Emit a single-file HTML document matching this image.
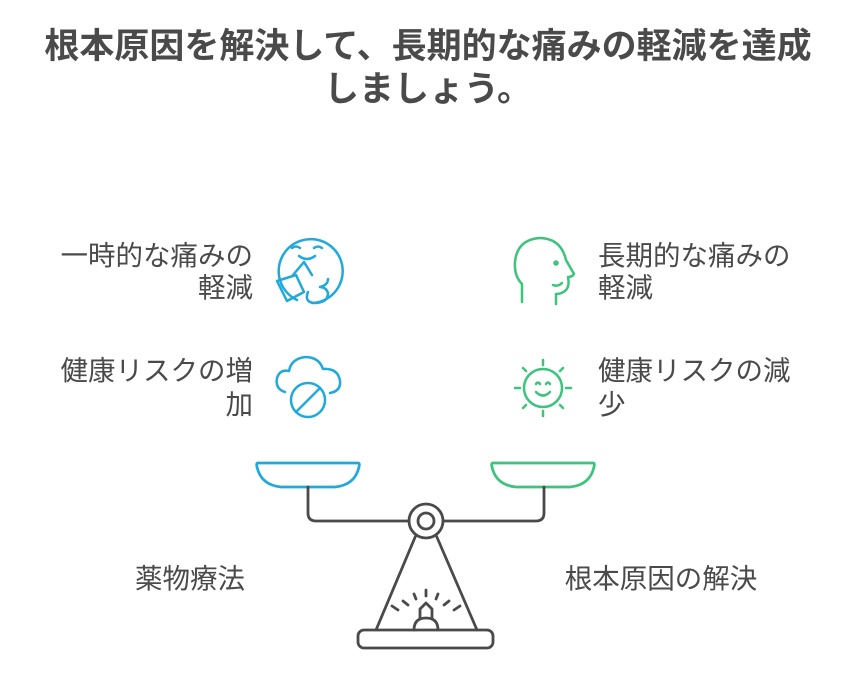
<!DOCTYPE html>
<html><head><meta charset="utf-8"><style>
html,body{margin:0;padding:0;background:#fff;}
svg text{font-family:"Liberation Sans","Noto Sans CJK JP",sans-serif;fill:#4a4a4a;}
</style></head><body>
<svg width="856" height="679" viewBox="0 0 856 679" xmlns="http://www.w3.org/2000/svg">
<text x="428" y="58" text-anchor="middle" font-size="35" font-weight="bold">根本原因を解決して、長期的な痛みの軽減を達成</text>
<text x="428" y="101" text-anchor="middle" font-size="35" font-weight="bold">しましょう。</text>

<g font-size="27.5">
<text x="253" y="265" text-anchor="end">一時的な痛みの</text>
<text x="253" y="297" text-anchor="end">軽減</text>
<text x="253" y="380" text-anchor="end">健康リスクの増</text>
<text x="253" y="414" text-anchor="end">加</text>
<text x="598" y="265">長期的な痛みの</text>
<text x="598" y="297">軽減</text>
<text x="598" y="380">健康リスクの減</text>
<text x="598" y="414">少</text>
<text x="190" y="588" text-anchor="middle">薬物療法</text>
<text x="661" y="588" text-anchor="middle">根本原因の解決</text>
</g>

<g fill="none" stroke="#1fa9dc" stroke-width="2.5" stroke-linecap="round" stroke-linejoin="round">
<path d="M297 300 A32 32 0 1 1 313 303"/>
<path d="M292 248 q4 -3 8 0 M314 248 q4 -3 8 0"/>
<path d="M299 256 q8 6 16 0"/>
<path d="M293 275 L304 262 L312 275"/>
<path d="M277 281 L296 275 L304 292 L287 301 Z"/>
<path d="M308 292 q-4 10 6 11 q14 0 14 -10 q-2 -6 -8 -6 q8 -2 8 -8"/>
<path d="M285 392 q-10 -3 -8 -14 q3 -9 12 -7 q2 -12 16 -14 q14 0 18 12 q15 -1 17 12 q1 10 -10 12"/>
<circle cx="308" cy="400" r="17"/>
<path d="M296 412 L320 388"/>
</g>

<g fill="none" stroke="#3cc47c" stroke-width="2.5" stroke-linecap="round" stroke-linejoin="round">
<path d="M522 302 L522 284 q-8 -8 -7 -22 q2 -22 24 -24 q22 0 27 22 l8 14 q-2 3 -6 3 q2 10 -3 14 q-4 3 -9 3 l0 10"/>
<path d="M553 285 q5 2 9 -2"/>
<circle cx="556" cy="263" r="1.5" fill="#3cc47c"/>
<circle cx="543" cy="388" r="19"/>
<path d="M536 384 q2 -3 4 0 M546 384 q2 -3 4 0"/>
<path d="M536 392 q7 7 14 0"/>
<path d="M543 360 v5 M543 411 v5 M515 388 h5 M566 388 h5 M523 368 l3 3 M560 405 l3 3 M563 368 l-3 3 M526 405 l-3 3"/>
</g>

<g fill="none" stroke-width="2.8" stroke-linecap="round" stroke-linejoin="round">
<path d="M258 463 h100 q2 0 1 4 q-4 18 -24 20 h-54 q-20 -2 -24 -20 q-1 -4 1 -4 Z" stroke="#1fa9dc"/>
<path d="M493 463 h100 q2 0 1 4 q-4 18 -24 20 h-54 q-20 -2 -24 -20 q-1 -4 1 -4 Z" stroke="#3cc47c"/>
<g stroke="#4a4a4a">
<path d="M308 487 v26 q0 8 8 8 h93"/>
<path d="M544 487 v26 q0 8 -8 8 h-93"/>
<circle cx="426" cy="521" r="17"/>
<circle cx="426" cy="521" r="8"/>
<path d="M416 535 L376 630 M436 535 L477 630"/>
<rect x="358" y="630" width="135" height="18" rx="6"/>
<path d="M414 630 q0 -12 12 -12 q12 0 12 12"/>
<path d="M420 618 v-9 l6 -6 l6 6 v9"/>
<path d="M426 596 v-6 M416 599 l-2 -5 M436 599 l2 -5 M408 605 l-5 -4 M444 605 l5 -4 M398 610 l-6 -4 M454 610 l6 -4"/>
</g>
</g>
</svg>
</body></html>
